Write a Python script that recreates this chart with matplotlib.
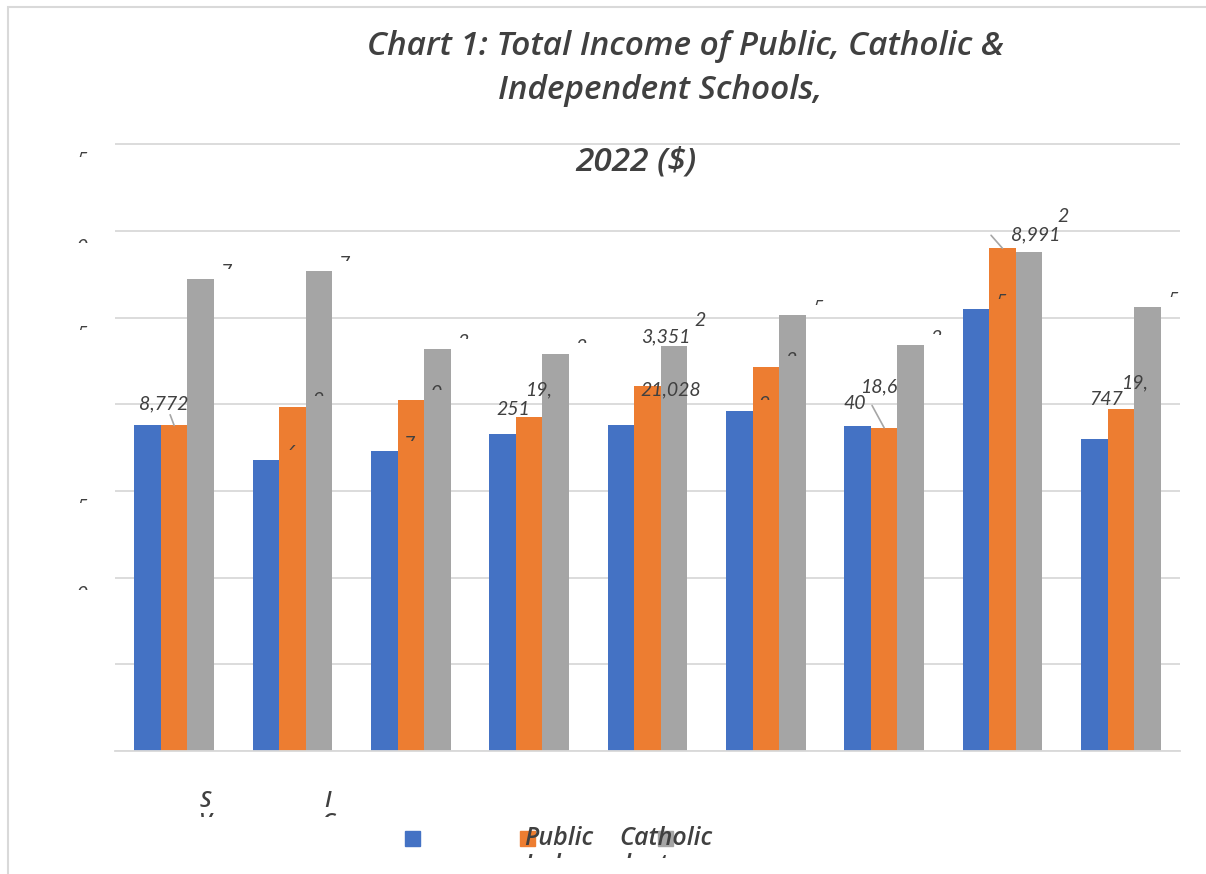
import matplotlib
matplotlib.use('Agg')
import matplotlib.pyplot as plt
from matplotlib.patches import Rectangle
from matplotlib.transforms import Bbox

series = ['Public', 'Catholic', 'Independent']
colors = ['#4472C4', '#ED7D31', '#A5A5A5']
public = [18800, 16780, 17300, 18280, 18800, 19610, 18740, 25490, 17990]
catholic = [18772, 19840, 20240, 19251, 21028, 22150, 18640, 28991, 19747]
independent = [27220, 27680, 23180, 22900, 23351, 25140, 23410, 28780, 25600]
yticks = [0, 5000, 10000, 15000, 20000, 25000, 30000, 35000]
# category labels only survive as first letters in the source image
cat_bits = [('S', 'V'), ('I', 'C')]

W, H = 1206, 874
TXT = '#404040'
FONT = 'Lato'

fig = plt.figure(figsize=(W / 100, H / 100), dpi=100)
fig.patch.set_facecolor('white')

# light chart-area border (top + left only visible)
fig.patches.append(Rectangle((8 / W, -0.1), 1.2, 1 - 7 / H + 0.1, transform=fig.transFigure,
                             fill=False, ec='#d9d9d9', lw=1.5))

px5k = 86.7
ytop = 35200
ax = fig.add_axes([115 / W, (H - 751) / H, 1065 / W, ytop / 5000 * px5k / H])
vals = [public, catholic, independent]
bw = 0.224
x = list(range(len(public)))
for k, (v, c) in enumerate(zip(vals, colors)):
    ax.bar([i + (k - 1) * bw for i in x], v, width=bw, color=c, zorder=2)

ax.set_xlim(-0.5, 8.5)
ax.set_ylim(0, ytop)
ax.set_yticks(yticks)
ax.yaxis.grid(True, color='#d9d9d9', lw=1.3, zorder=0)
ax.tick_params(length=0, labelleft=False, labelbottom=False)
ax.set_xticks([])
for s in ['top', 'right', 'left']:
    ax.spines[s].set_visible(False)
ax.spines['bottom'].set_color('#d9d9d9')
ax.spines['bottom'].set_linewidth(1.3)

# title (three lines, as laid out in the original)
tkw = dict(fontsize=24, style='italic', weight='semibold', color=TXT, family='Open Sans')
fig.text(685 / W, 1 - 55 / H, 'Chart 1: Total Income of Public, Catholic &', ha='center', va='baseline', **tkw)
fig.text(660 / W, 1 - 99 / H, 'Independent Schools,', ha='center', va='baseline', **tkw)
fig.text(636 / W, 1 - 171 / H, '2022 ($)', ha='center', va='baseline', **tkw)

lkw = dict(fontsize=14, style='italic', color=TXT, family=FONT)


def clipped(t, y_top_px, y_bot_px):
    # keep only the slice of text between two image rows
    t.set_clip_box(Bbox([[0, H - y_bot_px], [W, H - y_top_px]]))
    t.set_clip_on(True)


def bar_xy(k, i):
    return (i + (k - 1) * bw, vals[k][i])


# full data labels: (series, group, text, dx px, dy px, leader relpos)
labels = [
    (1, 0, '8,772', -10, 22, (0.6, 0)),
    (1, 3, '19,', 9, 27, None),
    (1, 3, '251', -16, 8, None),
    (2, 4, '3,351', -8, 9, None),
    (2, 4, '2', 26, 26, None),
    (1, 4, '21,028', 23, -3, None),
    (1, 6, '18,6', -6, 41, None),
    (1, 6, '40', -29, 24, (1.25, 0.4)),
    (1, 7, '8,991', 33, 13, (-0.4, 0.5)),
    (1, 7, '2', 61, 32, None),
    (1, 8, '19,', 14, 26, None),
    (1, 8, '747', -15, 9, None),
]
for k, i, s, dx, dy, rp in labels:
    ap = None
    if rp is not None:
        ap = dict(arrowstyle='-', color='#a6a6a6', lw=1.2, shrinkA=0, shrinkB=0, relpos=rp)
    ax.annotate(s, xy=bar_xy(k, i), xytext=(dx, dy), textcoords='offset pixels',
                ha='center', va='center', arrowprops=ap, zorder=5, **lkw)

# clipped label fragments: only the top of the second digit shows
frag_bars = [(2, 0), (2, 1), (0, 1), (1, 1), (0, 2), (1, 2), (2, 2), (2, 3),
             (0, 5), (1, 5), (2, 5), (2, 6), (0, 7), (2, 8)]
fig.canvas.draw()
for k, i in frag_bars:
    bx, by = ax.transData.transform(bar_xy(k, i))
    top = H - by - 15
    t = ax.annotate(f'{vals[k][i]:,}'[1], xy=bar_xy(k, i), xytext=(25, 15), textcoords='offset pixels',
                    ha='center', va='top', zorder=5, **lkw)
    clipped(t, top - 2, top + 4.5)

# y tick fragments
for v in [35000, 30000, 25000, 15000, 10000]:
    by = ax.transData.transform((0, v))[1]
    top = H - by + 8
    t = ax.annotate(f'{v:,}'[1], xy=(0, v), xycoords=ax.get_yaxis_transform(),
                    xytext=(-33, -8), textcoords='offset pixels', ha='center', va='top', **lkw)
    clipped(t, top - 2, top + 4.5)

# category label fragments
ckw = dict(fontsize=16, style='italic', weight='semibold', color=TXT, family='Open Sans')
for (a, b), xp in zip(cat_bits, [205, 328]):
    fig.text(xp / W, 1 - 807 / H, a, ha='center', va='baseline', **ckw)
    t = fig.text(xp / W, 1 - 813 / H, b, ha='center', va='top', **ckw)
    clipped(t, 811, 817)

# legend as rendered in the source (labels shifted one slot right)
for xp, c in zip([405, 520, 658], colors):
    fig.patches.append(Rectangle((xp / W, 1 - 846 / H), 15 / W, 15 / H, transform=fig.transFigure,
                                 color=c, zorder=1))
gkw = dict(fontsize=18, style='italic', weight='semibold', color=TXT, family='Open Sans', zorder=3)
fig.text(524 / W, 1 - 845 / H, series[0], ha='left', va='baseline', **gkw)
fig.text(619 / W, 1 - 845 / H, series[1], ha='left', va='baseline', **gkw)
t = fig.text(524 / W, 1 - 872 / H, series[2], ha='left', va='baseline', **gkw)
clipped(t, 850, 858)

fig.savefig('out.png', dpi=100)
